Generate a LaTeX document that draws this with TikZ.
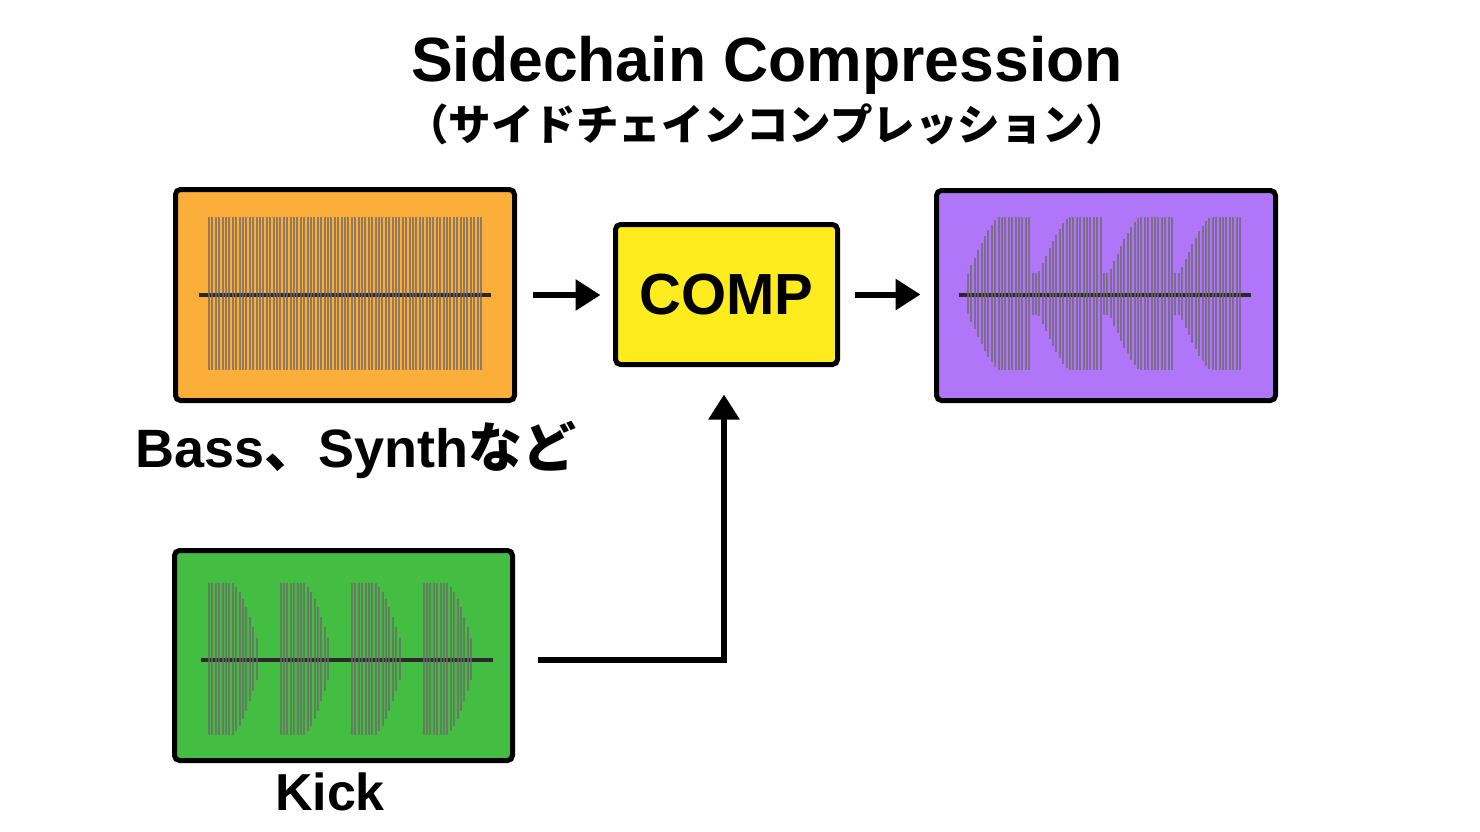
\documentclass[tikz,border=0pt]{standalone}
\usepackage{fontspec}
\setmainfont{Liberation Sans}
\newfontfamily\jp{Noto Sans CJK JP}
\usetikzlibrary{arrows.meta}
\definecolor{cOrange}{RGB}{251,174,58}
\definecolor{cGreen}{RGB}{67,190,67}
\definecolor{cPurple}{RGB}{176,118,250}
\definecolor{cYellow}{RGB}{255,236,30}
\definecolor{barc}{RGB}{110,105,105}
\definecolor{axc}{RGB}{45,40,45}
\begin{document}
\begin{tikzpicture}[x=1pt,y=-1pt,
  panel/.style={draw=black, line width=5pt, rounded corners=5pt, inner sep=0pt},
  bar/.style={draw=barc, line width=2pt, draw opacity=0.75},
  axisline/.style={draw=axc, line width=3.5pt},
  arr/.style={line width=6pt, -{Triangle[length=25pt,width=30pt]}},
  lbl/.style={font=\bfseries\fontsize{54}{60}\selectfont, inner sep=0pt}
]
\useasboundingbox[fill=white] (0,0) rectangle (1480,832);

% titles
\node[anchor=base, inner sep=0pt, font=\bfseries\fontsize{62.5}{70}\selectfont] (title) at (767,82) {Sidechain Compression};
\node[anchor=base, inner sep=0pt, font=\jp\bfseries\fontsize{42.5}{46}\selectfont] (subtitle) at (767,141) {（サイドチェインコンプレッション）};

% panels
\node[panel, fill=cOrange, minimum width=339pt, minimum height=211pt] (bass) at (345,295) {};
\node[panel, fill=cGreen, minimum width=338pt, minimum height=210pt] (kick) at (343.5,655.5) {};
\node[panel, fill=cPurple, minimum width=339pt, minimum height=210pt] (out) at (1106,295.5) {};
\node[panel, fill=cYellow, minimum width=222pt, minimum height=140pt, font=\bfseries\fontsize{58}{62}\selectfont] (comp) at (726.5,294.5) {COMP};

% labels
\node[lbl, anchor=base west] (basslbl) at (135,467) {Bass{\jp 、}Synth{\jp など}};
\node[lbl, anchor=base, font=\bfseries\fontsize{52}{58}\selectfont] (kicklbl) at (330,810) {Kick};

% bass waveform
\draw[axisline] (199,295) -- (491,295);
\foreach \k in {0,...,80} {
  \draw[bar] ({209+3.4*\k},217) -- ({209+3.4*\k},370);
}

% kick waveform
\draw[axisline] (201,660) -- (493,660);
\foreach \s in {209,280.5,352,423.5} {
  \foreach \k in {0,...,14} {
    \pgfmathsetmacro\t{3.4*\k}
    \pgfmathsetmacro\h{\t<=23 ? 76 : 76-56*pow(max(0.0001,(\t-23)/25),1.5)}
    \draw[bar] ({\s+\t},{659-\h}) -- ({\s+\t},{659+\h});
  }
}

% output waveform
\draw[axisline] (959,295) -- (1251,295);
\foreach \k in {0,...,80} {
  \pgfmathsetmacro\x{968+3.4*\k}
  \pgfmathsetmacro\t{mod(3.4*\k,70.5)}
  \pgfmathsetmacro\h{\t<30 ? 76-56*pow(max(0.0001,1-\t/30),1.3) : (\t<63.5 ? 76.5 : 21)}
  \draw[bar] (\x,{293.5-\h}) -- (\x,{293.5+\h});
}

% connectors
\draw[arr, shorten <=15.5pt, shorten >=12.5pt] (bass.east) -- (bass.east -| comp.west);
\draw[arr, shorten <=14.5pt, shorten >=13.5pt] (comp.east) -- (comp.east -| out.west);
\draw[arr, shorten <=22.5pt, shorten >=27.5pt] ([yshift=-4.5pt]kick.east) -| ([xshift=-2.5pt]comp.south);
\end{tikzpicture}
\end{document}
